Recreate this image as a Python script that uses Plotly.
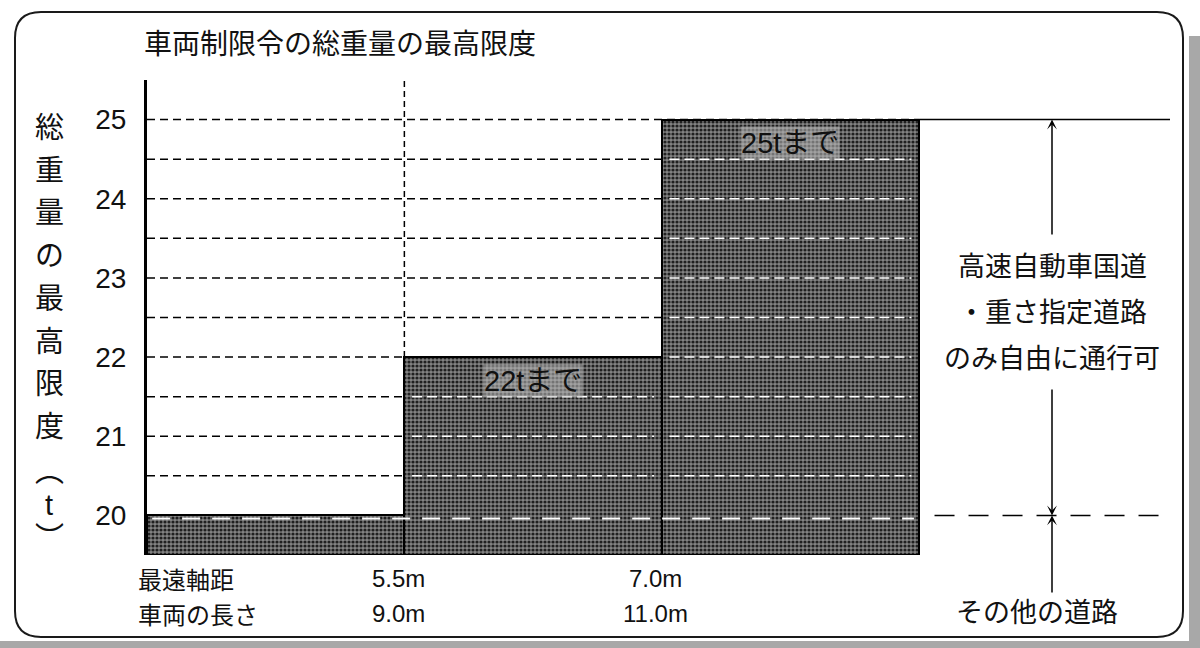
import plotly.graph_objects as go

# ---- data -------------------------------------------------------------
wheelbase = ["5.5m", "7.0m"]            # 最遠軸距 class boundaries
vehicle_length = ["9.0m", "11.0m"]      # 車両の長さ class boundaries
max_weight_t = [20, 22, 25]             # 総重量の最高限度 for each class (t)
bar_text = ["", "22tまで", "25tまで"]
y_ticks = [20, 21, 22, 23, 24, 25]
designated_limit = 25                   # 高速自動車国道・重さ指定道路
general_limit = 20                      # その他の道路

title_text = "車両制限令の総重量の最高限度"
y_title_chars = list("総重量の最高限度") + ["︵", "t", "︶"]
row_titles = ["最遠軸距", "車両の長さ"]
designated_text = ["高速自動車国道", "・重さ指定道路", "のみ自由に通行可"]
general_text = "その他の道路"

# ---- geometry ---------------------------------------------------------
W, H = 1200, 648
ML, MR, MT, MB = 147, 30, 80, 93
PW, PH = W - ML - MR, H - MT - MB
y_floor, y_top = 19.5, 25.5
x_max = 3.975
grid_step = 0.5

CJK = "Noto Sans CJK JP"
MIX = "Liberation Sans, Noto Sans CJK JP"
INK = "#111111"


def px_x(px):
    return (px - ML) / PW


def px_y(py):
    return (H - MB - py) / PH


def dy(py):
    """pixel row -> data y"""
    return y_top - (py - MT) * (y_top - y_floor) / PH


n = len(max_weight_t)
fig = go.Figure()

fig.add_trace(go.Bar(
    x=[i + 0.5 for i in range(n)],
    y=[w - y_floor for w in max_weight_t],
    base=y_floor,
    width=1,
    marker=dict(
        color="#5e5e5e",
        line=dict(color="black", width=2),
        pattern=dict(shape=".", fgcolor="#202020", bgcolor="#838383",
                     size=4, solidity=0.5, fillmode="replace"),
    ),
    hoverinfo="skip",
    showlegend=False,
))

shapes = []
levels = [y_floor + grid_step * k for k in range(1, int(round((y_top - y_floor) / grid_step)))]

# dashed guide lines on the white area
for lv in levels:
    if lv > general_limit:
        shapes.append(dict(type="line", xref="x", yref="y", x0=0, x1=n, y0=lv, y1=lv,
                           layer="below", line=dict(color="black", width=1.5, dash="8px,5px")))

# the same guides showing through the shaded bars
for i, top in enumerate(max_weight_t):
    for lv in levels:
        if general_limit < lv < top:
            shapes.append(dict(type="line", xref="x", yref="y", x0=i + 0.03, x1=i + 0.97,
                               y0=lv, y1=lv, layer="above",
                               line=dict(color="white", width=1.5, dash="10px,5px")))

# 20 t reference line: white across the bars, black dashes to the right
shapes.append(dict(type="line", xref="x", yref="y", x0=0.02, x1=n - 0.02,
                   y0=general_limit - 0.04, y1=general_limit - 0.04, layer="above",
                   line=dict(color="white", width=2, dash="18px,12px")))
shapes.append(dict(type="line", xref="x", yref="y", x0=n + 0.06, x1=x_max,
                   y0=general_limit, y1=general_limit,
                   line=dict(color="black", width=1.5, dash="20px,14px")))
# 25 t reference line extended to the right
shapes.append(dict(type="line", xref="x", yref="y", x0=n, x1=x_max,
                   y0=designated_limit, y1=designated_limit,
                   line=dict(color="black", width=1.5)))
# vertical dashed boundary above the 22 t step
shapes.append(dict(type="line", xref="x", yref="y", x0=1, x1=1,
                   y0=max_weight_t[1], y1=y_top, layer="below",
                   line=dict(color="black", width=1.5, dash="6px,4px")))

# rounded outer frame
fx0, fx1 = px_x(15), px_x(1183)
fy0, fy1 = px_y(637), px_y(12)
rx, ry = 26 / PW, 26 / PH
frame = (f"M{fx0 + rx},{fy1} L{fx1 - rx},{fy1} Q{fx1},{fy1} {fx1},{fy1 - ry} "
         f"L{fx1},{fy0 + ry} Q{fx1},{fy0} {fx1 - rx},{fy0} "
         f"L{fx0 + rx},{fy0} Q{fx0},{fy0} {fx0},{fy0 + ry} "
         f"L{fx0},{fy1 - ry} Q{fx0},{fy1} {fx0 + rx},{fy1} Z")
shapes.append(dict(type="path", xref="paper", yref="paper", path=frame,
                   line=dict(color="#1a1a1a", width=2)))

# printed-page edge bands
shapes.append(dict(type="rect", xref="paper", yref="paper",
                   x0=px_x(1189), x1=px_x(1200), y0=px_y(648), y1=px_y(36),
                   fillcolor="#a8a8a8", line=dict(width=0), layer="below"))
shapes.append(dict(type="rect", xref="paper", yref="paper",
                   x0=px_x(0), x1=px_x(1200), y0=px_y(648), y1=px_y(641),
                   fillcolor="#a8a8a8", line=dict(width=0), layer="below"))

ann = []
# title
ann.append(dict(text=title_text, xref="paper", yref="paper", x=px_x(142), y=px_y(42),
                xanchor="left", yanchor="middle", showarrow=False,
                font=dict(family=CJK, size=28, color=INK)))

# vertical axis title, one character per row
y_rows = [128 + 42.7 * k for k in range(8)] + [472, 505, 538]
for ch, py in zip(y_title_chars, y_rows):
    ann.append(dict(text=ch, xref="paper", yref="paper", x=px_x(49), y=px_y(py),
                    xanchor="center", yanchor="middle", showarrow=False,
                    font=dict(family=MIX, size=29, color=INK)))

# category rows under the bars
row_y = [578, 613]
for title, py in zip(row_titles, row_y):
    ann.append(dict(text=title, xref="paper", yref="paper", x=px_x(136), y=px_y(py),
                    xanchor="left", yanchor="middle", showarrow=False,
                    font=dict(family=CJK, size=24, color=INK)))
for k, (wb, vl) in enumerate(zip(wheelbase, vehicle_length)):
    for lab, py in zip((wb, vl), row_y):
        ann.append(dict(text=lab, xref="x", yref="paper", x=k + 1, y=px_y(py),
                        xanchor="center", yanchor="middle", xshift=-6, showarrow=False,
                        font=dict(family="Liberation Sans", size=24, color=INK)))

# labels inside the bars
for i, (top, lab) in enumerate(zip(max_weight_t, bar_text)):
    if lab:
        ann.append(dict(text=lab, xref="x", yref="y", x=i + 0.5, y=top - 0.3,
                        xanchor="center", yanchor="middle", showarrow=False,
                        bgcolor="rgba(185,185,185,0.55)", borderpad=0,
                        font=dict(family=MIX, size=29, color=INK)))

# dimension arrows on the right
x_dim = (1052 - ML) / PW * x_max
arrow_style = dict(arrowhead=3, arrowsize=1.1, arrowwidth=1.5, arrowcolor="black",
                   standoff=0, axref="x", ayref="y", xref="x", yref="y", text="")
ann.append(dict(x=x_dim, y=designated_limit, ax=x_dim, ay=dy(236), showarrow=True, **arrow_style))
ann.append(dict(x=x_dim, y=general_limit, ax=x_dim, ay=dy(388), showarrow=True, **arrow_style))
ann.append(dict(x=x_dim, y=general_limit, ax=x_dim, ay=dy(594), showarrow=True, **arrow_style))
ann.append(dict(x=x_dim, y=dy(628), ax=x_dim, ay=dy(638), showarrow=True,
                **{**arrow_style, "arrowhead": 0}))

for line, py in zip(designated_text, [264, 310, 356]):
    ann.append(dict(text=line, xref="x", yref="paper", x=x_dim, y=px_y(py),
                    xanchor="center", yanchor="middle", showarrow=False,
                    font=dict(family=CJK, size=27, color=INK)))
ann.append(dict(text=general_text, xref="x", yref="paper", x=x_dim - 0.06, y=px_y(610),
                xanchor="center", yanchor="middle", showarrow=False,
                font=dict(family=CJK, size=27, color=INK)))

fig.update_layout(
    width=W, height=H,
    margin=dict(l=ML, r=MR, t=MT, b=MB, pad=0),
    paper_bgcolor="white", plot_bgcolor="white",
    showlegend=False,
    bargap=0,
    xaxis=dict(range=[0, x_max], showticklabels=False, showgrid=False,
               zeroline=False, showline=False, fixedrange=True),
    yaxis=dict(range=[y_floor, y_top], tickvals=y_ticks, ticks="",
               showgrid=False, zeroline=False, showline=True, linecolor="black",
               linewidth=3, ticklabelstandoff=12, fixedrange=True,
               tickfont=dict(family="Liberation Sans", size=28, color=INK)),
    shapes=shapes,
    annotations=ann,
)

fig.write_html("out.html")
